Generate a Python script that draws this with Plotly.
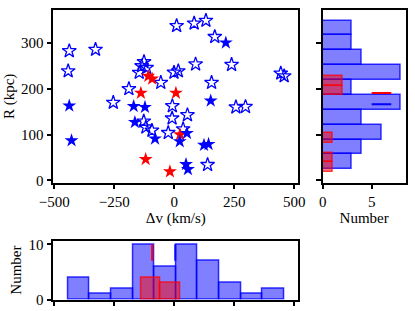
import numpy as np
import plotly.graph_objects as go

# ---- data ----
# blue, open stars
dv_open = [10, 83, 132, 169, -437.5, -328, -442, 89, 239, -126, -136, -115, -146,
           -1, 17, -56, 155.6, 444, 458, -189, -254, -8, 257, 297, -9, 55,
           -127, -118, -93, -25, 37, 139]
r_open = [338, 343.5, 349.4, 314, 283, 286, 239, 254, 253, 259, 250, 246.5, 235.6,
          236, 239, 213.7, 213.7, 234, 228, 200, 170, 162.6, 160, 161, 135.7, 143,
          129, 116, 109, 104, 112, 34]
# blue, filled stars
dv_fill = [215, -437.5, -169, -122, 152, -164, -80, 23, 53, 124, 143, -428, 49, 57]
r_fill = [301, 163, 162, 160, 174, 127, 91, 85, 103, 77, 79, 87, 35, 24]
# red, filled stars
dv_red = [-108, -92, -139, 7, 24, -119, -18]
r_red = [228, 222, 191, 191, 100, 46, 19]

dv_ticks = [-500, -250, 0, 250, 500]
r_ticks = [0, 100, 200, 300]
num_ticks_right = [0, 5]
num_ticks_bottom = [0, 10]

dv_blue = np.array(dv_open + dv_fill)
r_blue = np.array(r_open + r_fill)
dv_r = np.array(dv_red)
r_r = np.array(r_red)


def hist(vals, nbins):
    counts, edges = np.histogram(vals, bins=nbins)
    return counts, (edges[:-1] + edges[1:]) / 2, np.diff(edges)


FONT = "Liberation Serif"
BLUE_FILL = "rgba(0,0,255,0.5)"
BLUE_EDGE = "rgba(0,0,255,0.8)"
RED_FILL = "rgba(255,0,0,0.5)"
RED_EDGE = "rgba(255,0,0,0.75)"

fig = go.Figure()

# main scatter
fig.add_trace(go.Scatter(x=dv_open, y=r_open, mode="markers", xaxis="x", yaxis="y",
                         marker=dict(symbol="star-open", size=10.5, color="blue",
                                     line=dict(width=1.3, color="blue"))))
fig.add_trace(go.Scatter(x=dv_red, y=r_red, mode="markers", xaxis="x", yaxis="y",
                         marker=dict(symbol="star", size=10.5, color="red",
                                     line=dict(width=0))))
fig.add_trace(go.Scatter(x=dv_fill, y=r_fill, mode="markers", xaxis="x", yaxis="y",
                         marker=dict(symbol="star", size=10.5, color="blue",
                                     line=dict(width=0))))

# right histogram (R)
cb, mb, wb = hist(r_blue, 10)
fig.add_trace(go.Bar(y=mb, x=cb, width=wb, orientation="h", xaxis="x2", yaxis="y2",
                     marker=dict(color=BLUE_FILL, line=dict(color=BLUE_EDGE, width=1.5))))
cr, mr, wr = hist(r_r, 10)
fig.add_trace(go.Bar(y=mr, x=cr, width=wr, orientation="h", xaxis="x2", yaxis="y2",
                     marker=dict(color=RED_FILL, line=dict(color=RED_EDGE, width=1.5))))
fig.add_trace(go.Scatter(x=[5, 7], y=[np.median(r_r)] * 2, mode="lines", xaxis="x2", yaxis="y2",
                         line=dict(color="red", width=2)))
fig.add_trace(go.Scatter(x=[5, 7], y=[np.median(r_blue)] * 2, mode="lines", xaxis="x2", yaxis="y2",
                         line=dict(color="blue", width=2)))

# bottom histogram (dv)
cb, mb, wb = hist(dv_blue, 10)
fig.add_trace(go.Bar(x=mb, y=cb, width=wb, xaxis="x3", yaxis="y3",
                     marker=dict(color=BLUE_FILL, line=dict(color=BLUE_EDGE, width=1.5))))
cr, mr, wr = hist(dv_r, 2)
fig.add_trace(go.Bar(x=mr, y=cr, width=wr, xaxis="x3", yaxis="y3",
                     marker=dict(color=RED_FILL, line=dict(color=RED_EDGE, width=1.5))))
fig.add_trace(go.Scatter(x=[np.median(dv_r)] * 2, y=[7, 10], mode="lines", xaxis="x3", yaxis="y3",
                         line=dict(color="red", width=2)))
fig.add_trace(go.Scatter(x=[np.median(dv_blue)] * 2, y=[7, 10], mode="lines", xaxis="x3", yaxis="y3",
                         line=dict(color="blue", width=2)))

W, H = 415, 311
mx = [53.3 / W, 298.3 / W]
my = [1 - 182.7 / H, 1 - 10 / H]
rx = [322.7 / W, 405.7 / W]
by = [1 - 299.5 / H, 1 - 240.7 / H]

ax = dict(showline=True, linecolor="black", linewidth=1.5, mirror=True,
          ticks="outside", ticklen=5, tickwidth=1.5, tickcolor="black",
          showgrid=False, zeroline=False, automargin=False,
          tickfont=dict(family=FONT, size=15, color="black"))

xr = [-504, 517]
yr = [-5.25, 372.6]

fig.update_layout(
    width=W, height=H, margin=dict(l=0, r=0, t=0, b=0),
    paper_bgcolor="white", plot_bgcolor="white",
    showlegend=False, barmode="overlay", bargap=0,
    font=dict(family=FONT, size=15, color="black"),
    xaxis=dict(ax, domain=mx, range=xr, tickvals=dv_ticks, anchor="y",
               title=dict(text="Δv (km/s)", standoff=3, font=dict(family=FONT, size=15))),
    yaxis=dict(ax, domain=my, range=yr, tickvals=r_ticks, anchor="x",
               title=dict(text="R (kpc)", standoff=3, font=dict(family=FONT, size=15))),
    xaxis2=dict(ax, domain=rx, range=[0, 8.47], tickvals=num_ticks_right, anchor="y2",
                title=dict(text="Number", standoff=3, font=dict(family=FONT, size=15))),
    yaxis2=dict(ax, domain=my, range=yr, tickvals=r_ticks, anchor="x2", showticklabels=False),
    xaxis3=dict(ax, domain=mx, range=xr, tickvals=dv_ticks, anchor="y3", showticklabels=False),
    yaxis3=dict(ax, domain=by, range=[0, 10.65], tickvals=num_ticks_bottom, anchor="x3",
                title=dict(text="Number", standoff=3, font=dict(family=FONT, size=15))),
)

fig.write_html("out.html", config={"displayModeBar": False},
               post_script="document.body.style.margin='0';document.body.style.padding='0';")
